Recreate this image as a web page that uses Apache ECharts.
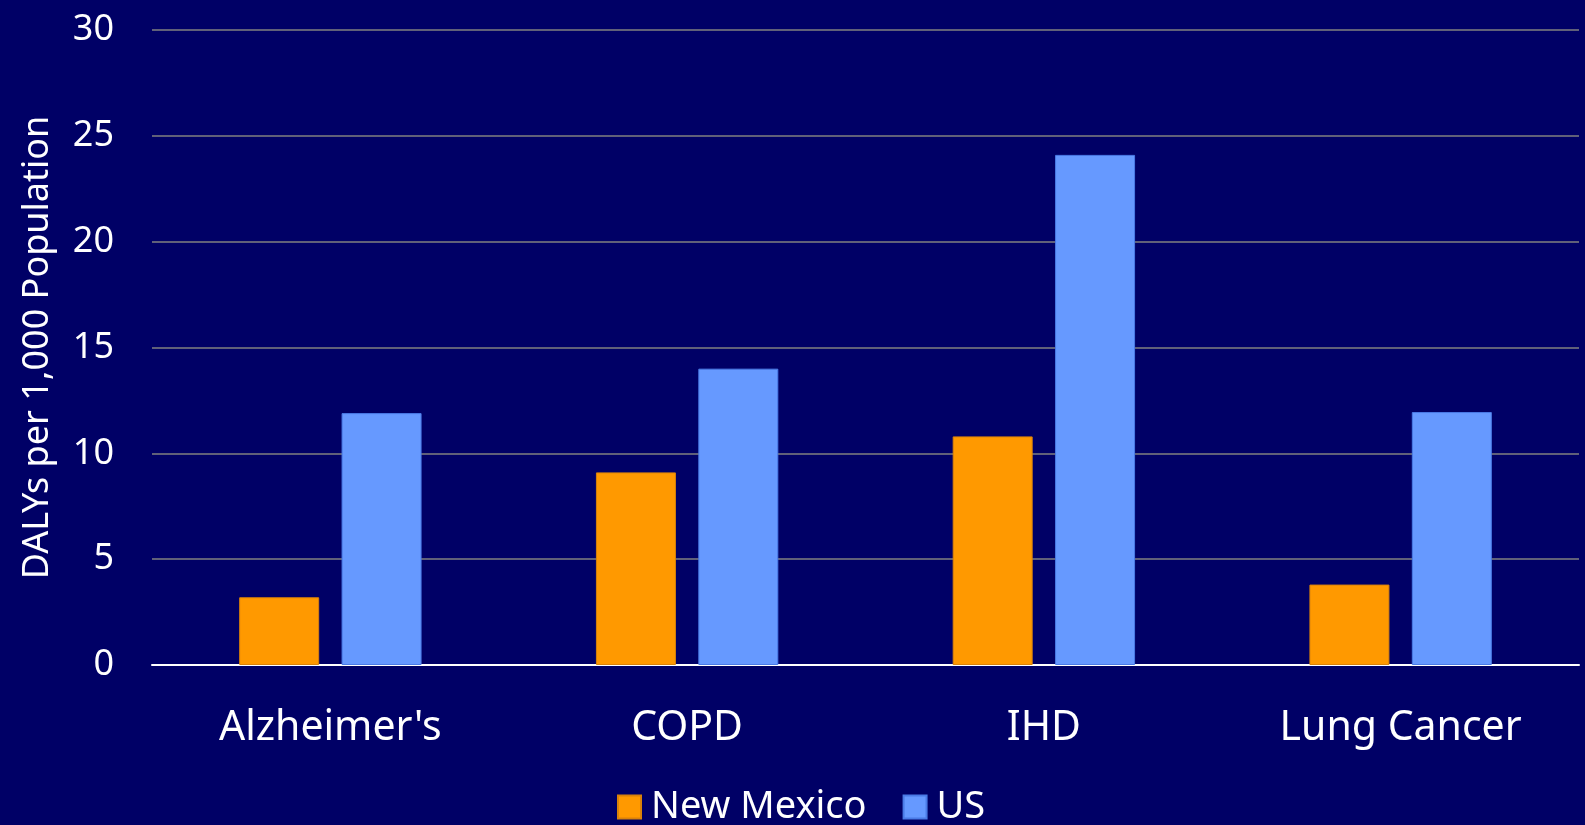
<!DOCTYPE html>
<html>
<head>
<meta charset="utf-8">
<script src="https://cdn.jsdelivr.net/npm/echarts@6/dist/echarts.min.js"></script>
<style>
  html, body { margin: 0; padding: 0; background: #000066; }
  #chart { width: 1585px; height: 825px; }
</style>
</head>
<body>
<div id="chart"></div>
<script>
var categories = ["Alzheimer's", 'COPD', 'IHD', 'Lung Cancer'];
var newMexico = [3.2, 9.1, 10.8, 3.8];
var us = [11.9, 14.0, 24.1, 11.95];
var yTicks = [0, 30, 5];   // min, max, step

var font = 'Noto Sans';
var chart = echarts.init(document.getElementById('chart'));
var option = {
  backgroundColor: '#000066',
  animation: false,
  textStyle: { fontFamily: font },
  grid: {
    left: 152,
    right: 6,
    top: 30,
    bottom: 160
  },
  legend: {
    data: ['New Mexico', 'US'],
    left: 612,
    top: 783,
    icon: 'rect',
    itemWidth: 23,
    itemHeight: 23,
    itemGap: 36,
    textStyle: { color: '#ffffff', fontSize: 38, fontFamily: font, padding: [0, 0, 0, 5] }
  },
  xAxis: {
    type: 'category',
    data: categories,
    axisLine: { lineStyle: { color: '#ffffff', width: 2 } },
    axisTick: { show: false },
    axisLabel: { color: '#ffffff', fontSize: 41, margin: 43, fontFamily: font }
  },
  yAxis: {
    type: 'value',
    min: yTicks[0],
    max: yTicks[1],
    interval: yTicks[2],
    name: 'DALYs per 1,000 Population',
    nameLocation: 'middle',
    nameGap: 96,
    nameTextStyle: { color: '#ffffff', fontSize: 36, fontFamily: font },
    axisLine: { show: false },
    axisTick: { show: false },
    splitLine: { lineStyle: { color: '#808080', width: 1.5 } },
    axisLabel: { color: '#ffffff', fontSize: 36, margin: 38, fontFamily: font }
  },
  series: [
    {
      name: 'New Mexico',
      type: 'bar',
      data: newMexico,
      barWidth: 80,
      barGap: '28%',
      itemStyle: { color: '#ff9900', borderColor: '#d9820a', borderWidth: 1 }
    },
    {
      name: 'US',
      type: 'bar',
      data: us,
      barWidth: 80,
      barGap: '28%',
      itemStyle: { color: '#6699ff', borderColor: '#4a7be6', borderWidth: 1 }
    }
  ]
};
chart.setOption(option);
</script>
</body>
</html>
